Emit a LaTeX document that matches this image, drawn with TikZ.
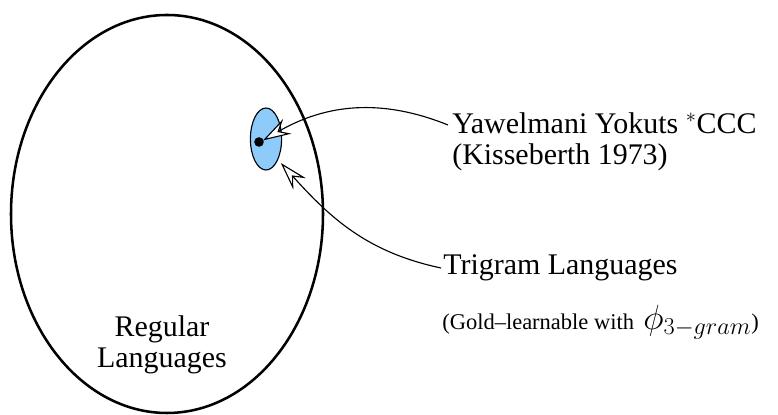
\documentclass[tikz,border=0pt]{standalone}
\usepackage{amsmath}
\usepackage{fontspec}
\setmainfont{Liberation Serif}
\usetikzlibrary{arrows.meta}
\definecolor{lightblue}{HTML}{8CCBFA}
\tikzset{
	bigfont/.style={font=\fontsize{21.3}{22.5}\selectfont, inner sep=0pt},
	smallfont/.style={font=\fontsize{16}{18}\selectfont, inner sep=0pt},
	pointer/.style={line width=0.8pt, -{Stealth[fill=white, length=0.7cm, width=0.42cm, inset=0.24cm]}},
}

\begin{document}
\begin{tikzpicture}
		\useasboundingbox (0, 0) rectangle (19.45, 10.375);
		\draw[line width=1.8pt] (4.175, 5.025) ellipse [x radius=3.9, y radius=4.975];
		\filldraw[draw=black, fill=lightblue, line width=0.8pt] (6.65, 6.9) ellipse [x radius=0.39, y radius=0.775];
		\fill (6.475, 6.825) circle (0.12) coordinate (dot);
		\coordinate (rim) at (7.02, 6.3);
		\node[bigfont, align=center] (reg) at (4.05, 1.75) {Regular\\Languages};
		\node[bigfont, anchor=west] (yok) at (11.3, 7.3) {Yawelmani Yokuts $^*$CCC};
		\node[bigfont, anchor=west] (kiss) at (11.3, 6.45) {(Kisseberth 1973)};
		\node[bigfont, anchor=west] (trig) at (11.075, 3.675) {Trigram Languages};
		\node[smallfont, anchor=west] (gold) at (11.05, 2.325) {(Gold--learnable with\, {\fontsize{23}{24}\selectfont$\phi_{3-gram}$})};
		\draw[pointer] ([xshift=-0.1cm, yshift=-0.05cm]yok.west) to[out=158, in=30] ([shift={(0.1,0.04)}]dot);
		\draw[pointer] ([xshift=-0.05cm]trig.west) to[out=168, in=-48] (rim);
	\end{tikzpicture}
\end{document}
